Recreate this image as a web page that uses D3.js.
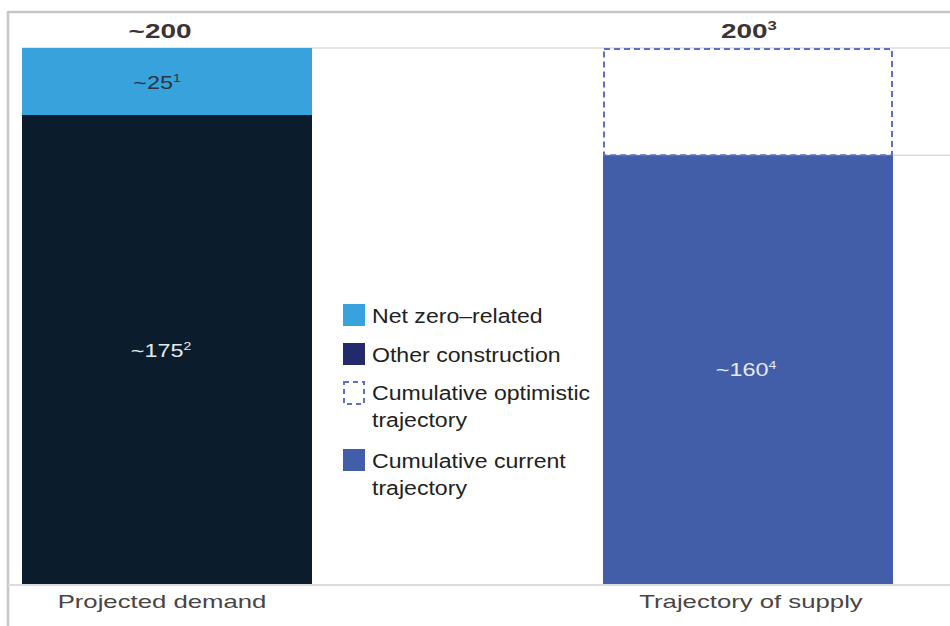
<!DOCTYPE html>
<html>
<head>
<meta charset="utf-8">
<script src="https://cdn.jsdelivr.net/npm/d3@7"></script>
<style>
  html, body { margin: 0; padding: 0; background: #fff; }
  svg { display: block; font-family: "Liberation Sans", Arial, Helvetica, sans-serif; }
</style>
</head>
<body>
<svg id="chart" width="950" height="626"></svg>
<script>
// Categories and stacked values
const categories = ["Projected demand", "Trajectory of supply"];
const demandKeys = ["other", "netZero"];
const demandValues = [175, 25];          // other construction, net zero-related
const supplyCurrent = 160;
const supplyOptimistic = 200;
const totalLabels = [["~200", ""], ["200", "3"]];
const demandLabels = [["~175", "2"], ["~25", "1"]];
const supplyLabel = ["~160", "4"];
const legendItems = [
  ["Net zero–related"],
  ["Other construction"],
  ["Cumulative optimistic", "trajectory"],
  ["Cumulative current", "trajectory"]
];

const colors = {
  netZero: "#37a2dc",
  other: "#0b1c2c",
  otherLegend: "#232a6b",
  current: "#435ea9",
  dashed: "#5b70c6",
  text: "#3b3434",
  frame: "#c6c6c6",
  grid: "#dcdcdc"
};

const svg = d3.select("#chart");
const W = 950, H = 626;

const x = d3.scalePoint().domain(categories).range([22, 603]);
const bw = 290;
const y = d3.scaleLinear().domain([0, 200]).range([584, 48]);

// Outer frame (top and left rules)
svg.append("line").attr("x1", 8).attr("x2", W).attr("y1", 12).attr("y2", 12)
  .attr("stroke", colors.frame).attr("stroke-width", 2.5);
svg.append("line").attr("x1", 8).attr("x2", 8).attr("y1", 11).attr("y2", H)
  .attr("stroke", colors.frame).attr("stroke-width", 2.5);

// Reference rules at the top of each total
svg.append("line").attr("x1", 22).attr("x2", W).attr("y1", y(supplyOptimistic)).attr("y2", y(supplyOptimistic))
  .attr("stroke", colors.grid).attr("stroke-width", 1.5);
svg.append("line").attr("x1", x(categories[1])).attr("x2", W).attr("y1", y(supplyCurrent)).attr("y2", y(supplyCurrent))
  .attr("stroke", colors.grid).attr("stroke-width", 1.5);

// Demand stack
const stackRow = { other: demandValues[0], netZero: demandValues[1] };
const series = d3.stack().keys(demandKeys)([stackRow]);
const demandColors = { other: colors.other, netZero: colors.netZero };
series.forEach(s => {
  const d = s[0];
  svg.append("rect")
    .attr("x", x(categories[0])).attr("width", bw)
    .attr("y", y(d[1])).attr("height", y(d[0]) - y(d[1]))
    .attr("fill", demandColors[s.key]);
});

// Supply: current trajectory plus optimistic outline above it
svg.append("rect")
  .attr("x", x(categories[1])).attr("width", bw)
  .attr("y", y(supplyCurrent)).attr("height", y(0) - y(supplyCurrent))
  .attr("fill", colors.current);
svg.append("rect")
  .attr("x", x(categories[1]) + 1).attr("width", bw - 2)
  .attr("y", y(supplyOptimistic) + 1).attr("height", y(supplyCurrent) - y(supplyOptimistic) - 1)
  .attr("fill", "none").attr("stroke", colors.dashed).attr("stroke-width", 2)
  .attr("stroke-dasharray", "6,4");

// Baseline
svg.append("line").attr("x1", 8).attr("x2", W).attr("y1", y(0) + 1).attr("y2", y(0) + 1)
  .attr("stroke", colors.grid).attr("stroke-width", 2);

// Text helper: wide grotesque look via horizontal scale, optional superscript
function label(parts, cx, cy, opts) {
  const g = svg.append("g").attr("transform", `translate(${cx},${cy}) scale(${opts.sx || 1},1)`);
  const t = g.append("text").attr("text-anchor", opts.anchor || "middle")
    .attr("fill", opts.fill).attr("font-size", opts.size)
    .attr("font-weight", opts.weight || "normal");
  t.append("tspan").text(parts[0]);
  if (parts[1]) {
    t.append("tspan").attr("font-size", opts.size * 0.6).attr("dy", -opts.size * 0.38).text(parts[1]);
  }
  return t;
}

const c0 = x(categories[0]) + bw / 2;
const c1 = x(categories[1]) + bw / 2;

// Totals above bars
label(totalLabels[0], c0 - 7, 38, { fill: colors.text, size: 21, weight: "bold", sx: 1.33 });
label(totalLabels[1], c1 + 1, 38, { fill: colors.text, size: 21, weight: "bold", sx: 1.33 });

// Segment values
label(demandLabels[1], c0 - 10, 89, { fill: "#2c3540", size: 18, sx: 1.3 });
label(demandLabels[0], c0 - 6, 357, { fill: "#e6e7ea", size: 18, sx: 1.3 });
label(supplyLabel, c1 - 2, 376, { fill: "#e6e9f3", size: 18, sx: 1.3 });

// Category labels
label([categories[0], ""], 162, 608, { fill: "#4a4444", size: 18, sx: 1.43 });
label([categories[1], ""], 751, 608, { fill: "#4a4444", size: 18, sx: 1.43 });

// Legend
const rowTop = [304, 343, 381, 449];
legendItems.forEach((lines, i) => {
  const top = rowTop[i];
  if (i === 2) {
    svg.append("rect").attr("x", 344).attr("y", top + 1).attr("width", 20).attr("height", 22)
      .attr("fill", "none").attr("stroke", colors.dashed).attr("stroke-width", 2)
      .attr("stroke-dasharray", "5,4");
  } else {
    const fill = [colors.netZero, colors.otherLegend, null, colors.current][i];
    svg.append("rect").attr("x", 343).attr("y", top).attr("width", 22).attr("height", 22).attr("fill", fill);
  }
  lines.forEach((ln, j) => {
    label([ln, ""], 372, top + 19 + j * 27, { fill: "#222", size: 21, sx: 1.1, anchor: "start" });
  });
});
</script>
</body>
</html>
